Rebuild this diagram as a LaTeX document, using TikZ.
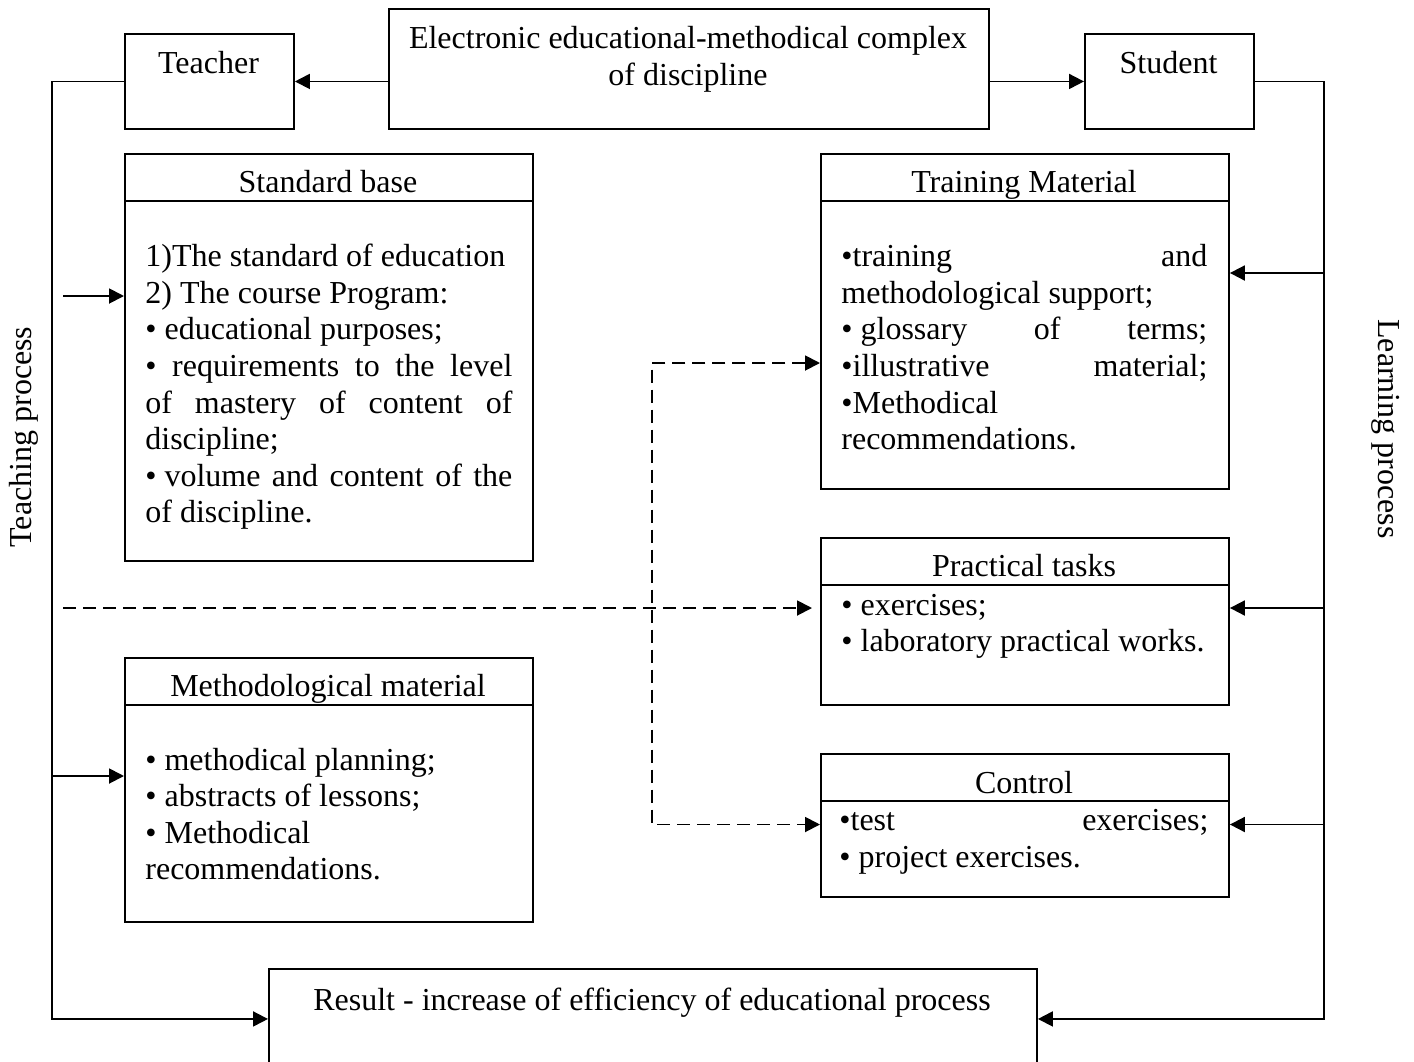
\documentclass[tikz,border=0pt]{standalone}
\usepackage{fontspec}
\setmainfont{Liberation Serif}
\usetikzlibrary{arrows.meta}
\newcommand{\jl}[1]{\makebox[\linewidth][s]{#1}}
\begin{document}
\begin{tikzpicture}[x=0.5pt,y=-0.5pt,
  lw/.style={line width=0.95pt},
  box/.style={draw, lw, rectangle, anchor=north west, inner sep=0pt},
  txt/.style={inner sep=0pt, font=\fontsize{16pt}{18.3pt}\selectfont},
  arr/.style={lw, -{Triangle[length=7.5pt,width=7.5pt]}},
  dsh/.style={lw, dash pattern=on 6.5pt off 3.5pt},
  darr/.style={dsh, {Triangle[length=7.5pt,width=7.5pt]}-{Triangle[length=7.5pt,width=7.5pt]}},
  darr1/.style={dsh, -{Triangle[length=7.5pt,width=7.5pt]}}]
\useasboundingbox (0,0) rectangle (1414,1061);
\clip (0,0) rectangle (1414,1061);

% boxes
\node[box, minimum width=84.5pt, minimum height=47.5pt] (teacher) at (124,33) {};
\node[box, minimum width=300pt, minimum height=60pt] (eemc) at (388,8) {};
\node[box, minimum width=84.5pt, minimum height=47.5pt] (student) at (1084,33) {};
\node[box, minimum width=204pt, minimum height=203.5pt] (sb) at (124,153) {};
\node[box, minimum width=204pt, minimum height=167.5pt] (tm) at (820,153) {};
\node[box, minimum width=204pt, minimum height=83.5pt] (pt) at (820,537) {};
\node[box, minimum width=204pt, minimum height=132pt] (mm) at (124,657) {};
\node[box, minimum width=204pt, minimum height=71.5pt] (ct) at (820,753) {};
\node[box, minimum width=384pt, minimum height=50pt] (result) at (268,968) {};

% header lines
\draw[lw] (124,201) -- (532,201);
\draw[lw] (820,201) -- (1228,201);
\draw[lw] (820,585) -- (1228,585);
\draw[lw] (124,705) -- (532,705);
\draw[lw] (820,801) -- (1228,801);

% texts
\node[txt, anchor=base] (teachert) at (208.5,73.3) {Teacher};
\node[txt, anchor=base] (studentt) at (1168.5,73.3) {Student};
\node[txt, anchor=base] (eemc1) at (688,48.3) {Electronic educational-methodical complex};
\node[txt, anchor=base] (eemc2) at (688,85) {of discipline};
\node[txt, anchor=base] (sbh) at (328,192.7) {Standard base};
\node[txt, anchor=base] (tmh) at (1024,192.7) {Training Material};
\node[txt, anchor=base] (pth) at (1024,576.7) {Practical tasks};
\node[txt, anchor=base] (mmh) at (328,696.7) {Methodological material};
\node[txt, anchor=base] (cth) at (1024,793) {Control};
\node[txt, anchor=base] (resultt) at (652,1010) {Result - increase of efficiency of educational process};

\node[txt, anchor=base west] (sbt) at (145,266.7) {\parbox[t]{183.5pt}{%
1)The standard of education\\
2) The course Program:\\
• educational purposes;\\
\jl{• requirements to the level}\\
\jl{of mastery of content of}\\
discipline;\\
\jl{\mbox{• volume} and content of the}\\
of discipline.}};

\node[txt, anchor=base west] (tmt) at (841,266.7) {\parbox[t]{183pt}{%
\jl{•training and}\\
methodological support;\\
\jl{\mbox{• glossary} of terms;}\\
\jl{•illustrative material;}\\
•Methodical\\
recommendations.}};

\node[txt, anchor=base west] (ptt) at (841,615) {\parbox[t]{183pt}{%
• exercises;\\
• laboratory practical works.}};

\node[txt, anchor=base west] (ctt) at (839,830.7) {\parbox[t]{184.5pt}{%
\jl{•test exercises;}\\
• project exercises.}};

\node[txt, anchor=base west] (mmt) at (145,770) {\parbox[t]{183.5pt}{%
• methodical planning;\\
• abstracts of lessons;\\
• Methodical\\
recommendations.}};

\node[txt, rotate=90, anchor=base] (tp) at (32,437) {Teaching process};
\node[txt, rotate=-90, anchor=base] (lp) at (1378,429) {Learning process};

% connectors
\draw[arr] (eemc.west |- teacher.east) -- (teacher.east);
\draw[arr] (eemc.east |- student.west) -- (student.west);

\coordinate (tl) at (52,0);
\draw[arr] (teacher.west) -- (teacher.west -| tl) |- (result.west);
\coordinate (sbin) at (63,296);
\draw[arr] (sbin) -- (sbin -| sb.west);
\coordinate (mmin) at (52,776);
\draw[arr] (mmin) -- (mmin -| mm.west);

\coordinate (tr) at (1324,0);
\draw[arr] (student.east) -- (student.east -| tr) |- (result.east);
\coordinate (tmin) at (1324,273);
\draw[arr] (tmin) -- (tmin -| tm.east);
\coordinate (ptin) at (1324,608);
\draw[arr] (ptin) -- (ptin -| pt.east);
\coordinate (ctin) at (1324,824.5);
\draw[arr] (ctin) -- (ctin -| ct.east);

\coordinate (dl) at (63,608);
\draw[darr1, shorten >=4pt] (dl) -- (dl -| pt.west);
\coordinate (dv1) at (652,363);
\coordinate (dv2) at (652,824.5);
\draw[darr] (dv1 -| tm.west) -- (dv1) -- (dv2) -- (dv2 -| ct.west);
\end{tikzpicture}
\end{document}
